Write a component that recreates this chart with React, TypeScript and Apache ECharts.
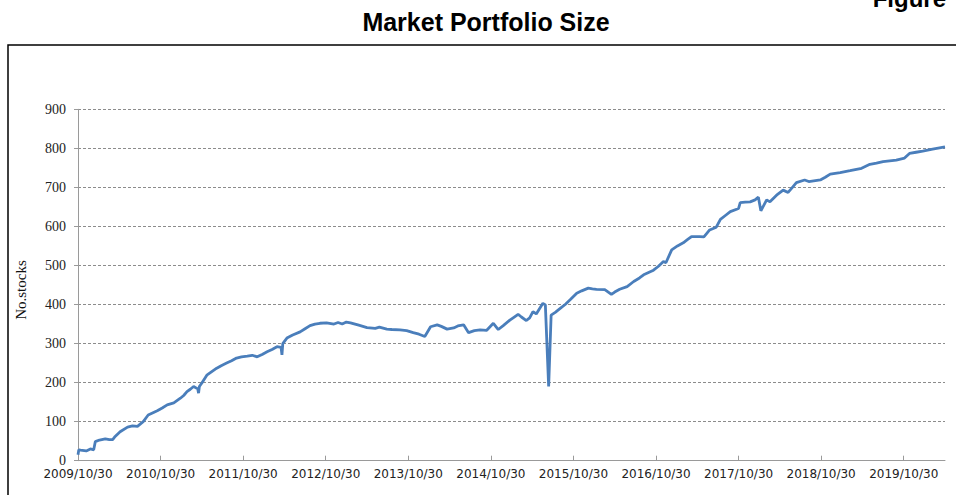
import React, { useEffect, useRef } from "react";
import * as echarts from "echarts";

// x: years since 2009/10/30
const yearOffsets = [
  0, 0.01, 0.03, 0.1, 0.15, 0.19, 0.21, 0.26, 0.33, 0.38, 0.42, 0.45, 0.51, 0.6, 0.66, 0.72, 0.79, 0.85, 0.96,
  1.02, 1.08, 1.16, 1.24, 1.28, 1.32, 1.36, 1.4, 1.45, 1.46, 1.47, 1.5, 1.56, 1.62, 1.68, 1.74, 1.8, 1.86, 1.92, 1.98,
  2.05, 2.11, 2.17, 2.23, 2.29, 2.35, 2.41, 2.46, 2.47, 2.48, 2.53, 2.6, 2.69, 2.75, 2.81, 2.87, 2.93,
  3.01, 3.1, 3.15, 3.2, 3.25, 3.3, 3.4, 3.5, 3.6, 3.65, 3.74, 3.8, 3.9, 3.98,
  4.06, 4.13, 4.2, 4.27, 4.35, 4.4, 4.47, 4.55, 4.6, 4.67, 4.73, 4.8, 4.87, 4.95,
  5.03, 5.09, 5.15, 5.23, 5.27, 5.33, 5.37, 5.43, 5.47, 5.51, 5.55, 5.63, 5.66, 5.7, 5.73, 5.78, 5.84, 5.9, 5.96,
  6.04, 6.1, 6.18, 6.23, 6.28, 6.38, 6.46, 6.5, 6.56, 6.65, 6.73, 6.8, 6.85, 6.91, 6.97,
  7.03, 7.09, 7.12, 7.19, 7.26, 7.33, 7.38, 7.43, 7.53, 7.58, 7.65, 7.73, 7.78, 7.84, 7.9,
  8.0, 8.02, 8.08, 8.14, 8.2, 8.24, 8.27, 8.34, 8.38, 8.46, 8.54, 8.6, 8.66, 8.7, 8.8, 8.85, 8.99,
  9.05, 9.11, 9.23, 9.35, 9.49, 9.59, 9.67, 9.75, 9.91,
  10.01, 10.07, 10.15, 10.23, 10.35, 10.5,
];

const stocks = [
  15, 28, 27, 25, 30, 28, 49, 53, 56, 54, 54, 62, 74, 86, 89, 88, 100, 117, 128,
  135, 143, 148, 160, 167, 177, 183, 190, 184, 173, 190, 199, 219, 228, 237, 244, 250, 256, 263, 266,
  268, 270, 266, 272, 279, 285, 292, 290, 271, 300, 314, 322, 330, 338, 346, 350, 352,
  353, 350, 354, 350, 355, 353, 347, 341, 339, 342, 337, 336, 335, 333,
  328, 324, 318, 343, 348, 344, 337, 340, 345, 348, 328, 333, 335, 334,
  352, 336, 346, 360, 366, 375, 368, 359, 366, 382, 376, 403, 399, 190, 373, 380, 390, 400, 412,
  429, 435, 442, 440, 439, 438, 426, 432, 439, 446, 459, 468, 476, 482, 488,
  498, 510, 507, 540, 550, 558, 566, 574, 574, 573, 591, 598, 618, 628, 638,
  646, 661, 662, 663, 668, 675, 640, 668, 663, 680, 693, 687, 702, 712, 719, 715, 719,
  726, 734, 738, 743, 749, 759, 762, 766, 770,
  775, 787, 790, 793, 798, 804,
];

const tickLabels = [
  "2009/10/30", "2010/10/30", "2011/10/30", "2012/10/30", "2013/10/30",
  "2014/10/30", "2015/10/30", "2016/10/30", "2017/10/30", "2018/10/30", "2019/10/30",
];

const titleText = "Market Portfolio Size";
const yAxisTitle = "No.stocks";

export default function App() {
  const ref = useRef<HTMLDivElement>(null);

  useEffect(() => {
    if (!ref.current) return;
    const chart = echarts.init(ref.current, null, { renderer: "svg" });
    const data = yearOffsets.map((x, i) => [x, stocks[i]]);
    chart.setOption({
      animation: false,
      backgroundColor: "#ffffff",
      grid: { left: 78, right: 11, top: 109.3, bottom: 34.3, containLabel: false },
      xAxis: {
        type: "value",
        min: 0,
        max: 10.5,
        interval: 1,
        axisLine: { show: true, lineStyle: { color: "#9a9a9a", width: 1 } },
        axisTick: { show: true, inside: true, length: 5, lineStyle: { color: "#9a9a9a" } },
        splitLine: { show: false },
        axisLabel: {
          show: true,
          margin: 7,
          color: "#222222",
          fontFamily: "DejaVu Sans",
          fontSize: 12,
          showMaxLabel: false,
          formatter: (v: number) => {
            const i = Math.round(v);
            return Math.abs(v - i) < 1e-6 && tickLabels[i] ? tickLabels[i] : "";
          },
        },
      },
      yAxis: {
        type: "value",
        min: 0,
        max: 900,
        interval: 100,
        axisLine: { show: true, lineStyle: { color: "#9a9a9a", width: 1 } },
        axisTick: { show: true, inside: false, length: 4, lineStyle: { color: "#9a9a9a" } },
        splitLine: { show: true, lineStyle: { color: "#8c8c8c", type: [3, 2], width: 1 } },
        axisLabel: {
          margin: 12,
          color: "#222222",
          fontFamily: "Liberation Serif",
          fontSize: 14,
          lineHeight: 13,
        },
      },
      series: [
        {
          type: "line",
          data,
          showSymbol: false,
          symbol: "none",
          lineStyle: { color: "#4A7EBB", width: 2.8 },
          z: 3,
        },
      ],
      graphic: [
        {
          type: "rect",
          shape: { x: 8, y: 45, width: 1000, height: 500 },
          style: { fill: "none", stroke: "#000000", lineWidth: 1.5 },
          silent: true,
        },
        {
          type: "text",
          x: 486,
          y: 22,
          style: {
            text: titleText,
            fill: "#000000",
            font: "bold 25px 'Liberation Sans', Arial, sans-serif",
            textAlign: "center",
            textVerticalAlign: "middle",
          },
        },
        {
          type: "text",
          x: 946,
          y: -2,
          style: {
            text: "Figure",
            fill: "#000000",
            font: "bold 24px 'Liberation Sans', Arial, sans-serif",
            textAlign: "right",
            textVerticalAlign: "middle",
          },
        },
        {
          type: "text",
          x: 21,
          y: 290,
          rotation: Math.PI / 2,
          style: {
            text: yAxisTitle,
            fill: "#111111",
            font: "15px 'Liberation Serif', serif",
            textAlign: "center",
            textVerticalAlign: "middle",
          },
        },
      ],
    });
    return () => chart.dispose();
  }, []);

  return (
    <div
      ref={ref}
      style={{ position: "absolute", left: 0, top: 0, width: 956, height: 495 }}
    />
  );
}
